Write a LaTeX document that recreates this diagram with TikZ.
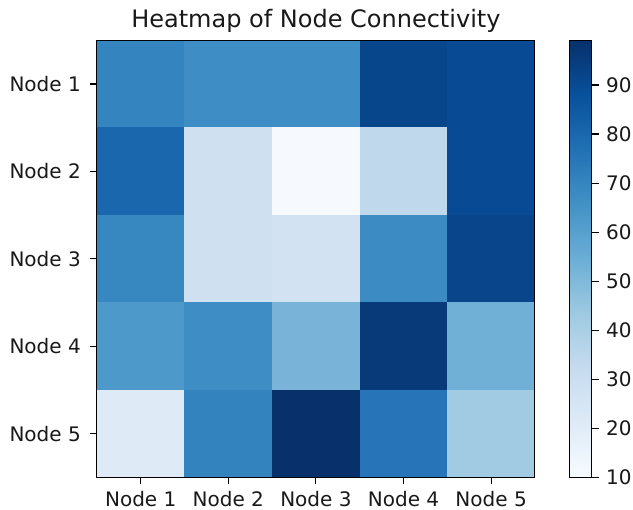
\documentclass[tikz,border=0pt]{standalone}
\usepackage{fontspec}
\setmainfont{DejaVu Sans}

% Blues colour map stops (light to dark)
\definecolor{bl0}{HTML}{F7FBFF}
\definecolor{bl1}{HTML}{DEEBF7}
\definecolor{bl2}{HTML}{C6DBEF}
\definecolor{bl3}{HTML}{9ECAE1}
\definecolor{bl4}{HTML}{6BAED6}
\definecolor{bl5}{HTML}{4292C6}
\definecolor{bl6}{HTML}{2171B5}
\definecolor{bl7}{HTML}{08519C}
\definecolor{bl8}{HTML}{08306B}

% cell colours, row by row
\definecolor{c11}{HTML}{3484C0}
\definecolor{c12}{HTML}{3F8DC5}
\definecolor{c13}{HTML}{3F8DC5}
\definecolor{c14}{HTML}{08468C}
\definecolor{c15}{HTML}{084A93}
\definecolor{c21}{HTML}{1A67AD}
\definecolor{c22}{HTML}{CFE0F1}
\definecolor{c23}{HTML}{F6FAFF}
\definecolor{c24}{HTML}{C0D8EC}
\definecolor{c25}{HTML}{084A93}
\definecolor{c31}{HTML}{3788C1}
\definecolor{c32}{HTML}{CFE0F1}
\definecolor{c33}{HTML}{D2E2F2}
\definecolor{c34}{HTML}{3C8BC3}
\definecolor{c35}{HTML}{08458A}
\definecolor{c41}{HTML}{4D99CA}
\definecolor{c42}{HTML}{3E8EC5}
\definecolor{c43}{HTML}{79B3D8}
\definecolor{c44}{HTML}{083A7A}
\definecolor{c45}{HTML}{70AFD6}
\definecolor{c51}{HTML}{DEEAF6}
\definecolor{c52}{HTML}{3383BF}
\definecolor{c53}{HTML}{08306B}
\definecolor{c54}{HTML}{2775B8}
\definecolor{c55}{HTML}{A1CBE2}

\pgfdeclareverticalshading{bluesbar}{100bp}{%
  color(0bp)=(bl0); color(25bp)=(bl0);
  color(31.25bp)=(bl1); color(37.5bp)=(bl2);
  color(43.75bp)=(bl3); color(50bp)=(bl4);
  color(56.25bp)=(bl5); color(62.5bp)=(bl6);
  color(68.75bp)=(bl7); color(75bp)=(bl8);
  color(100bp)=(bl8)}

\begin{document}
\begin{tikzpicture}[x=1bp,y=-1bp,
  spine/.style={draw=black, line width=1.1bp},
  tickmark/.style={draw=black, line width=1.1bp},
  ticklab/.style={inner sep=0pt, font=\fontsize{20bp}{24bp}\selectfont, text=black!90},
  titlelab/.style={inner sep=0pt, font=\fontsize{24bp}{28bp}\selectfont, text=black!90}]
\useasboundingbox (0,0) rectangle (633,510);

% heatmap cells
\foreach \r in {1,...,5}{
  \foreach \c in {1,...,5}{
    \fill[c\r\c] ({96.9+(\c-1)*87.6-0.2},{40.3+(\r-1)*87.4-0.2}) rectangle +(88,87.8);
  }
}
\draw[spine] (96.9,40.3) rectangle (534.9,477.3);

% row labels and ticks
\foreach \r in {1,...,5}{
  \coordinate (ry\r) at (96.9,{40.3+(\r-0.5)*87.4});
  \draw[tickmark] (ry\r) -- ++(-7,0);
  \node[ticklab, anchor=east] (ylab\r) at ([xshift=-15.9bp]ry\r) {Node \r};
}

% column labels and ticks
\foreach \c in {1,...,5}{
  \coordinate (cx\c) at ({96.9+(\c-0.5)*87.6},477.3);
  \draw[tickmark] (cx\c) -- ++(0,7);
  \node[ticklab, anchor=base] (xlab\c) at ({96.9+(\c-0.5)*87.6},506.5) {Node \c};
}

% title
\node[titlelab, anchor=base] (title) at (315.9,28) {Heatmap of Node Connectivity};

% colour bar
\shade[shading=bluesbar] (569.7,40.3) rectangle (591.7,477.3);
\draw[spine] (569.7,40.3) rectangle (591.7,477.3);
\foreach \v in {10,20,...,90}{
  \coordinate (cb\v) at (591.7,{477.3-(\v-10)*4.904});
  \draw[tickmark] (cb\v) -- ++(7,0);
  \node[ticklab, anchor=west] (cblab\v) at ([xshift=14.3bp]cb\v) {\v};
}
\end{tikzpicture}
\end{document}
